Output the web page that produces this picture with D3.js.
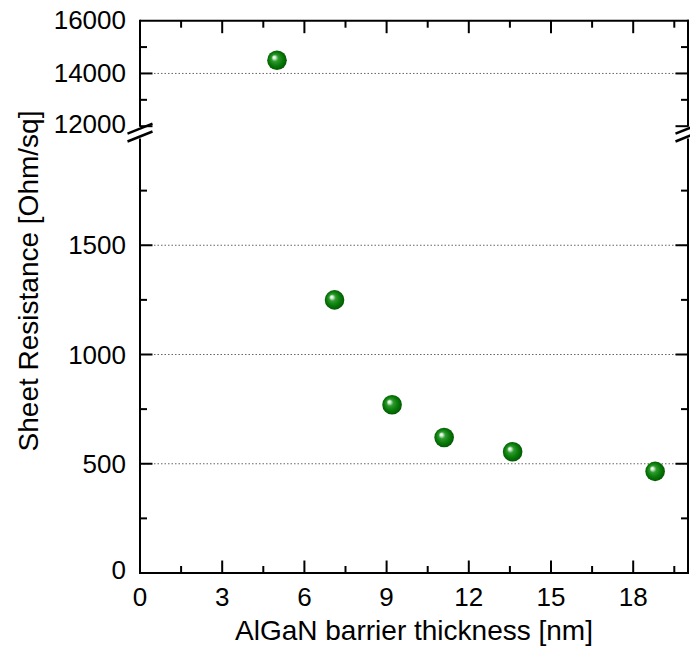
<!DOCTYPE html>
<html>
<head>
<meta charset="utf-8">
<script src="https://cdn.jsdelivr.net/npm/d3@7"></script>
<style>
  html, body { margin: 0; padding: 0; background: #fff; }
  svg { display: block; font-family: "Liberation Sans", Arial, sans-serif; }
</style>
</head>
<body>
<svg id="chart" width="690" height="649"></svg>
<script>
// Barrier thickness (nm) and sheet resistance (Ohm/sq)
const thickness = [5.0, 7.1, 9.2, 11.1, 13.6, 18.8];
const resistance = [14500, 1250, 770, 620, 555, 465];

// Axis ticks
const xMajor = [0, 3, 6, 9, 12, 15, 18];
const xMinor = [1.5, 4.5, 7.5, 10.5, 13.5, 16.5, 19.5];
const yLowMajor = [0, 500, 1000, 1500];
const yLowMinor = [250, 750, 1250, 1750];
const yHighMajor = [12000, 14000, 16000];
const yHighMinor = [13000, 15000];
const gridLow = [500, 1000, 1500];
const gridHigh = [14000];

const svg = d3.select("#chart");

const plotL = 140, plotR = 688, plotT = 20.7, plotB = 573;
const x = d3.scaleLinear().domain([0, 20]).range([plotL, plotR]);
// Broken y axis: lower segment 0–2000, upper segment 12000–16000
const yLow = d3.scaleLinear().domain([0, 2000]).range([plotB, 136]);
const yHigh = d3.scaleLinear().domain([12000, 16000]).range([126.2, plotT]);
const yOf = v => v >= 12000 ? yHigh(v) : yLow(v);

// Marker gradient (glossy sphere)
const defs = svg.append("defs");
const grad = defs.append("radialGradient").attr("id", "ball")
  .attr("cx", "50%").attr("cy", "50%").attr("r", "55%")
  .attr("fx", "34%").attr("fy", "34%");
grad.append("stop").attr("offset", "0%").attr("stop-color", "#ffffff");
grad.append("stop").attr("offset", "12%").attr("stop-color", "#d6efd6");
grad.append("stop").attr("offset", "32%").attr("stop-color", "#2e9a2e");
grad.append("stop").attr("offset", "60%").attr("stop-color", "#0b7f0b");
grad.append("stop").attr("offset", "100%").attr("stop-color", "#005000");

// Dotted grid lines
const grid = svg.append("g").attr("stroke", "#666").attr("stroke-width", 1)
  .attr("stroke-dasharray", "1.5,2");
grid.selectAll("line.gl").data(gridLow).join("line")
  .attr("x1", plotL).attr("x2", plotR)
  .attr("y1", d => yLow(d)).attr("y2", d => yLow(d));
grid.selectAll("line.gh").data(gridHigh).join("line")
  .attr("x1", plotL).attr("x2", plotR)
  .attr("y1", d => yHigh(d)).attr("y2", d => yHigh(d));

// Frame and ticks
const axes = svg.append("g").attr("stroke", "#000").attr("stroke-width", 2).attr("fill", "none");
const brkUp = yHigh(12000) + 2.5, brkDn = yLow(2000) + 0.5;

// bottom and top lines
axes.append("line").attr("x1", plotL).attr("x2", plotR + 1).attr("y1", plotB).attr("y2", plotB);
axes.append("line").attr("x1", plotL).attr("x2", plotR + 1).attr("y1", plotT).attr("y2", plotT);
// left/right broken vertical lines
[plotL, plotR].forEach(px => {
  axes.append("line").attr("x1", px).attr("x2", px).attr("y1", plotT - 1).attr("y2", brkUp - 2);
  axes.append("line").attr("x1", px).attr("x2", px).attr("y1", brkDn + 2).attr("y2", plotB + 1);
  [brkUp, brkDn].forEach(cy => {
    axes.append("line").attr("stroke-width", 2.5)
      .attr("x1", px - 12.5).attr("y1", cy + 5)
      .attr("x2", px + 12.5).attr("y2", cy - 5);
  });
});

const MAJ = 12.5, MIN = 7;
// x ticks, bottom (pointing up) and top (pointing down)
xMajor.concat(xMinor).forEach(v => {
  const len = xMajor.includes(v) ? MAJ : MIN;
  axes.append("line").attr("x1", x(v)).attr("x2", x(v)).attr("y1", plotB).attr("y2", plotB - len);
  axes.append("line").attr("x1", x(v)).attr("x2", x(v)).attr("y1", plotT).attr("y2", plotT + len);
});
// y ticks on both sides
const yTicks = [];
yLowMajor.forEach(v => yTicks.push([yLow(v), MAJ]));
yLowMinor.forEach(v => yTicks.push([yLow(v), MIN]));
yHighMajor.forEach(v => yTicks.push([yHigh(v), MAJ]));
yHighMinor.forEach(v => yTicks.push([yHigh(v), MIN]));
yTicks.forEach(([py, len]) => {
  if (Math.abs(py - plotT) < 1 || Math.abs(py - plotB) < 1) return;
  axes.append("line").attr("x1", plotL).attr("x2", plotL + len).attr("y1", py).attr("y2", py);
  axes.append("line").attr("x1", plotR).attr("x2", plotR - len).attr("y1", py).attr("y2", py);
});

// Tick labels
const labels = svg.append("g").attr("fill", "#000").attr("font-size", 26);
labels.selectAll("text.xl").data(xMajor).join("text")
  .attr("x", d => x(d)).attr("y", 605.5).attr("text-anchor", "middle").text(d => d);
labels.selectAll("text.yl").data(yLowMajor).join("text")
  .attr("x", 126).attr("y", d => yLow(d) - (d === 0 ? 3 : 0)).attr("dy", "0.35em")
  .attr("text-anchor", "end").text(d => d);
labels.selectAll("text.yh").data(yHighMajor).join("text")
  .attr("x", 126).attr("y", d => yHigh(d) - (d === 12000 ? 2 : 1)).attr("dy", "0.35em")
  .attr("text-anchor", "end").text(d => d);

// Axis titles
svg.append("text").attr("x", (plotL + plotR) / 2).attr("y", 640)
  .attr("text-anchor", "middle").attr("font-size", 28)
  .text("AlGaN barrier thickness [nm]");
svg.append("text").attr("transform", "translate(38,281) rotate(-90)")
  .attr("text-anchor", "middle").attr("font-size", 28)
  .text("Sheet Resistance [Ohm/sq]");

// Data points
const pts = thickness.map((t, i) => ({ t, r: resistance[i] }));
svg.append("g").selectAll("circle").data(pts).join("circle")
  .attr("cx", d => x(d.t)).attr("cy", d => yOf(d.r)).attr("r", 9.8)
  .attr("fill", "url(#ball)");
</script>
</body>
</html>
